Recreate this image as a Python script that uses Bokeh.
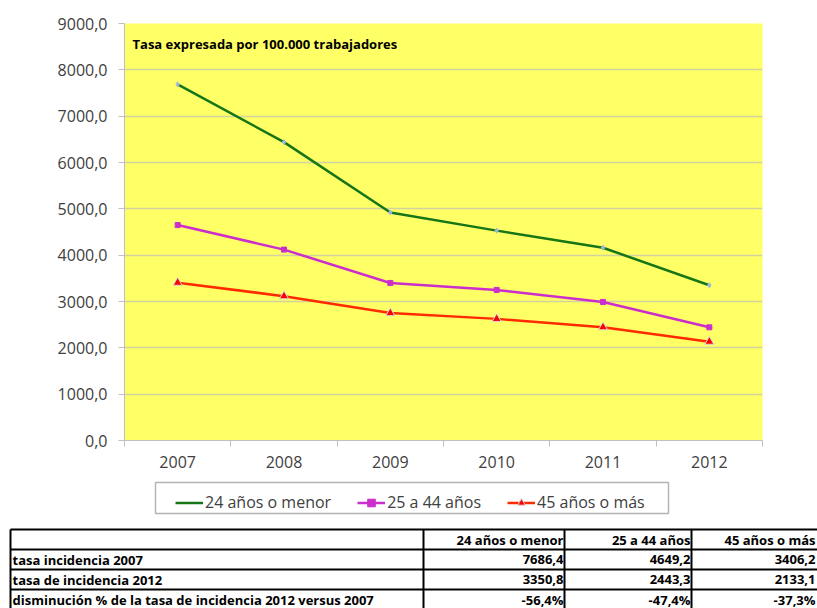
from bokeh.plotting import figure
from bokeh.models import (Range1d, FixedTicker, Legend, LegendItem, Label,
                          ColumnDataSource)
from bokeh.embed import file_html
from bokeh.resources import INLINE

# ---------------- data ----------------
years = [2007, 2008, 2009, 2010, 2011, 2012]
menor24 = [7686.4, 6440.0, 4920.0, 4530.0, 4160.0, 3350.8]
de25a44 = [4649.2, 4120.0, 3400.0, 3250.0, 2990.0, 2443.3]
mas45 = [3406.2, 3115.0, 2750.0, 2625.0, 2445.0, 2133.1]
series_names = ["24 años o menor", "25 a 44 años", "45 años o más"]
y_ticks = [0, 1000, 2000, 3000, 4000, 5000, 6000, 7000, 8000, 9000]
note = "Tasa expresada por 100.000  trabajadores"

row_labels = ["tasa incidencia  2007", "tasa de incidencia  2012",
              "disminución  % de la tasa de incidencia 2012 versus 2007"]
tasa_2007 = [7686.4, 4649.2, 3406.2]
tasa_2012 = [3350.8, 2443.3, 2133.1]
disminucion = [-56.4, -47.4, -37.3]

FONT = "Open Sans"
TXT = "#404040"
COLORS = ["#167516", "#cc2ecc", "#ff2a00"]

src = ColumnDataSource(dict(x=years, a=menor24, b=de25a44, c=mas45))


def draw_series(fig):
    r1 = fig.line("x", "a", source=src, line_color=COLORS[0], line_width=2.5)
    r1m = fig.scatter("x", "a", source=src, marker="diamond", size=5,
                      fill_color="#9fb8d8", line_color="#9fb8d8")
    r2 = fig.line("x", "b", source=src, line_color=COLORS[1], line_width=2.5)
    r2m = fig.scatter("x", "b", source=src, marker="square", size=5,
                      fill_color=COLORS[1], line_color=COLORS[1])
    r3 = fig.line("x", "c", source=src, line_color=COLORS[2], line_width=2.5)
    r3m = fig.scatter("x", "c", source=src, marker="triangle", size=9,
                      fill_color="#ff0000", line_color="#d8d8d8", line_width=1)
    return [r1], [r2, r2m], [r3, r3m]


# ---------------- chart ----------------
p = figure(width=817, height=475, output_backend="svg", toolbar_location=None,
           x_range=Range1d(2006.5, 2012.5), y_range=Range1d(0, 9000),
           min_border_left=124, min_border_right=55, min_border_top=23,
           min_border_bottom=35)
p.background_fill_color = "#ffff66"
p.border_fill_color = "white"
p.outline_line_color = None

p.xgrid.grid_line_color = None
p.ygrid.grid_line_color = "#d2d2a0"
p.ygrid.grid_line_width = 1.5
p.ygrid.ticker = FixedTicker(ticks=y_ticks)

p.yaxis.ticker = FixedTicker(ticks=y_ticks)
p.yaxis.major_label_overrides = {t: f"{t},0" for t in y_ticks}
p.yaxis.axis_line_color = "#bfbfbf"
p.yaxis.major_tick_line_color = "#bfbfbf"
p.yaxis.major_tick_out = 6
p.yaxis.major_tick_in = 0
p.yaxis.minor_tick_line_color = None
p.yaxis.major_label_standoff = 11

half = [y - 0.5 for y in years] + [years[-1] + 0.5]
p.xaxis.ticker = FixedTicker(ticks=years, minor_ticks=half)
p.xaxis.axis_line_color = "#bfbfbf"
p.xaxis.major_tick_line_color = None
p.xaxis.minor_tick_line_color = "#bfbfbf"
p.xaxis.minor_tick_out = 6
p.xaxis.minor_tick_in = 0
p.xaxis.major_label_standoff = 9

for ax in (p.xaxis, p.yaxis):
    ax.major_label_text_font = FONT
    ax.major_label_text_font_size = "16px"
    ax.major_label_text_color = TXT

draw_series(p)

p.add_layout(Label(x=8, y=397, x_units="screen", y_units="screen", text=note,
                   text_font=FONT, text_font_size="13px", text_font_style="bold",
                   text_color="black", text_baseline="middle"))

# ---------------- legend + table ----------------
t = figure(width=817, height=133, output_backend="svg", toolbar_location=None,
           x_range=Range1d(0, 817), y_range=Range1d(608, 475),
           min_border=0, min_border_left=0, min_border_right=0,
           min_border_top=0, min_border_bottom=0)
t.axis.visible = False
t.grid.visible = False
t.outline_line_color = None
t.background_fill_color = "white"
t.border_fill_color = "white"

# legend frame
t.quad(left=[155], right=[668], top=[482], bottom=[513],
       fill_color=None, line_color="#b4b4b4", line_width=1.5)

# the same series (outside this panel's ranges) feed the legend swatches
s1, s2, s3 = draw_series(t)

legend = Legend(items=[LegendItem(label=series_names[0], renderers=s1),
                       LegendItem(label=series_names[1], renderers=s2),
                       LegendItem(label=series_names[2], renderers=s3)],
                orientation="horizontal", location=(175, 95), margin=0,
                glyph_width=28, glyph_height=19, label_height=19,
                label_standoff=2, spacing=26, padding=6,
                label_text_font=FONT, label_text_font_size="16px",
                label_text_color=TXT, border_line_color=None,
                background_fill_alpha=0)
t.add_layout(legend, "center")

col_x = [10, 423, 564, 691, 816]
row_y = [529, 549, 569, 589, 609]

t.segment(x0=[col_x[0]] * 4, x1=[817] * 4, y0=row_y[:4], y1=row_y[:4],
          line_color="black", line_width=2)
t.segment(x0=col_x[:4], x1=col_x[:4], y0=[row_y[0]] * 4, y1=[row_y[-1]] * 4,
          line_color="black", line_width=2)

def fmt(v, pct=False):
    s = f"{v:.1f}".replace(".", ",")
    return s + "%" if pct else s

cells_x, cells_y, cells_t = [], [], []
for j, name in enumerate(series_names):
    cells_x.append(col_x[j + 2] - 1)
    cells_y.append((row_y[0] + row_y[1]) / 2)
    cells_t.append(name)
for i, rowvals in enumerate([tasa_2007, tasa_2012, disminucion]):
    for j, v in enumerate(rowvals):
        cells_x.append(col_x[j + 2] - 1)
        cells_y.append((row_y[i + 1] + row_y[i + 2]) / 2)
        cells_t.append(fmt(v, pct=(i == 2)))

t.text(x=cells_x, y=cells_y, text=cells_t, text_align="right",
       text_baseline="middle", text_font_size="13px", text_font_style="bold",
       text_color="black", text_font={"value": FONT})
t.text(x=[col_x[0] + 2] * 3,
       y=[(row_y[i + 1] + row_y[i + 2]) / 2 for i in range(3)],
       text=row_labels, text_align="left", text_baseline="middle",
       text_font_size="13px", text_font_style="bold", text_color="black",
       text_font={"value": FONT})

open("out.html", "w").write(file_html([p, t], INLINE))
